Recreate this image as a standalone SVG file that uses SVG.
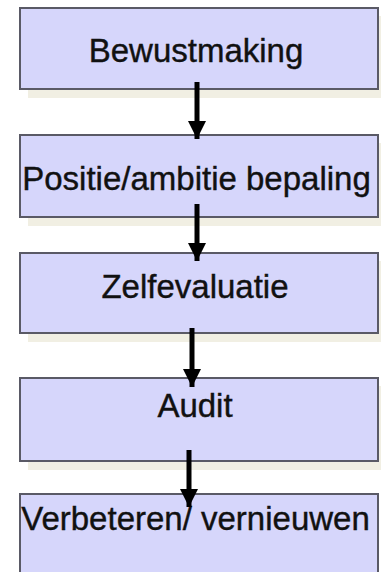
<svg xmlns="http://www.w3.org/2000/svg" width="381" height="572" viewBox="0 0 381 572">
<style>
.box{fill:#d6d6fb;stroke:#5a5a66;stroke-width:2}
.shadow{fill:#f1efe3}
.lbl{font-family:"Liberation Sans",Arial,sans-serif;font-size:33px;fill:#111;stroke:#111;stroke-width:0.4;text-anchor:middle}
.con{stroke:#000;stroke-width:5;fill:none}
</style>
<defs>
<marker id="ah" viewBox="0 0 10 10" refX="10" refY="5" markerWidth="3.6" markerHeight="3.6" orient="auto" markerUnits="strokeWidth">
<path d="M0,0 L10,5 L0,10 z" fill="#000"/>
</marker>
</defs>
<rect x="0" y="0" width="381" height="572" fill="#fff"/>
<g id="n1">
<rect class="shadow" x="28" y="16" width="358" height="82"/>
<rect class="box" x="20" y="8" width="358" height="81"/>
<text class="lbl" x="196" y="62">Bewustmaking</text>
</g>
<g id="n2">
<rect class="shadow" x="28" y="143" width="358" height="83"/>
<rect class="box" x="20" y="135" width="358" height="82"/>
<text class="lbl" x="196.5" y="190">Positie/ambitie bepaling</text>
</g>
<g id="n3">
<rect class="shadow" x="28" y="261" width="358" height="81"/>
<rect class="box" x="20" y="253" width="358" height="80"/>
<text class="lbl" x="195" y="298">Zelfevaluatie</text>
</g>
<g id="n4">
<rect class="shadow" x="28" y="386" width="358" height="84"/>
<rect class="box" x="20" y="378" width="358" height="83"/>
<text class="lbl" x="195" y="417">Audit</text>
</g>
<g id="n5">
<rect class="box" x="20" y="494" width="358" height="90"/>
<text class="lbl" x="195.5" y="530">Verbeteren/ vernieuwen</text>
</g>
<g id="connectors">
<line class="con" x1="197" y1="82" x2="197" y2="139" marker-end="url(#ah)"/>
<line class="con" x1="197" y1="204" x2="197" y2="261" marker-end="url(#ah)"/>
<line class="con" x1="192" y1="328" x2="192" y2="387" marker-end="url(#ah)"/>
<line class="con" x1="189" y1="450" x2="189" y2="507" marker-end="url(#ah)"/>
</g>
</svg>
